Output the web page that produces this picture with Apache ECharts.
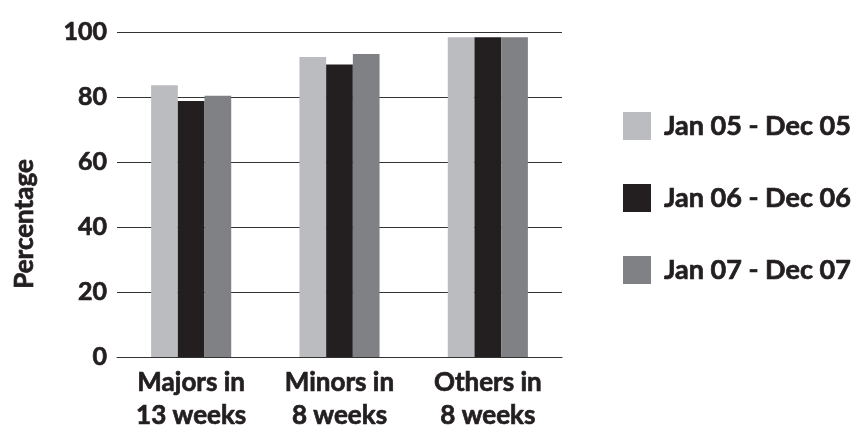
<!DOCTYPE html>
<html><head><meta charset="utf-8">
<script src="https://cdn.jsdelivr.net/npm/echarts@6/dist/echarts.min.js"></script>
<style>html,body{margin:0;padding:0;background:#fff}#c{width:861px;height:432px}</style>
</head><body><div id="c"></div>
<script>
const categories = ['Majors in\n13 weeks', 'Minors in\n8 weeks', 'Others in\n8 weeks'];
const seriesNames = ['Jan 05 - Dec 05', 'Jan 06 - Dec 06', 'Jan 07 - Dec 07'];
const values05 = [83.6, 92.3, 98.4];
const values06 = [78.8, 90.0, 98.4];
const values07 = [80.4, 93.2, 98.4];
const yTicks = [0, 20, 40, 60, 80, 100];
const colors = ['#bbbcc0', '#231f20', '#808184'];
const FONT = 'Lato';
const W = 'bold';
const INK = '#231f20';
const SB = {textBorderColor: INK, textBorderWidth: 0.7};

const chart = echarts.init(document.getElementById('c'), null, {renderer: 'canvas'});
const mk = (name, data, color) => ({
  name, type: 'bar', data, barGap: '0%', barCategoryGap: '46%',
  itemStyle: {color}
});
chart.setOption({
  animation: false,
  grid: {left: 117, right: 299, top: 32, bottom: 71},
  legend: {
    orient: 'vertical', left: 618, top: 107,
    itemWidth: 28, itemHeight: 28, itemGap: 44, icon: 'rect',
    textStyle: Object.assign({fontFamily: FONT, fontWeight: W, fontSize: 27, lineHeight: 28, color: INK, padding: [0, 0, 0, 8]}, SB),
    data: seriesNames
  },
  graphic: [{
    type: 'text', x: 25, y: 224, rotation: Math.PI / 2,
    style: {text: 'Percentage', fontFamily: FONT, fontWeight: W, fontSize: 26, fill: INK,
      stroke: INK, lineWidth: 0.7, align: 'center', verticalAlign: 'middle'}
  }],
  xAxis: {
    type: 'category', data: categories,
    axisLine: {lineStyle: {color: '#333', width: 1}},
    axisTick: {show: false},
    axisLabel: Object.assign({fontFamily: FONT, fontWeight: W, fontSize: 26, color: INK, lineHeight: 33, margin: 9}, SB)
  },
  yAxis: {
    type: 'value', min: 0, max: 100, interval: 20,
    axisLine: {show: false}, axisTick: {show: false},
    splitLine: {lineStyle: {color: '#333', width: 1}},
    axisLabel: Object.assign({fontFamily: FONT, fontWeight: W, fontSize: 25, color: INK, margin: 10,
      formatter: v => yTicks.includes(v) ? String(v) : ''}, SB)
  },
  series: [mk(seriesNames[0], values05, colors[0]), mk(seriesNames[1], values06, colors[1]), mk(seriesNames[2], values07, colors[2])]
});
</script></body></html>
